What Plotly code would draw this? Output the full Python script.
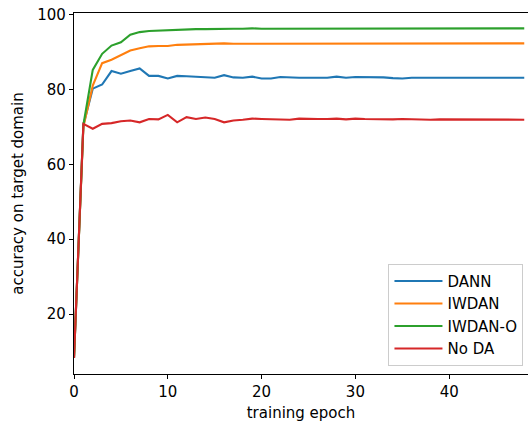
import plotly.graph_objects as go

epochs = list(range(49))
dann = [8.3, 70.5, 80.2, 81.3, 84.9, 84.2, 84.9, 85.6, 83.6, 83.6, 82.9, 83.6, 83.5, 83.4, 83.3, 83.1,
        83.8, 83.2, 83.1, 83.4, 82.9, 82.9, 83.3, 83.1, 83.1, 83.1, 83.0, 83.1, 83.4, 83.1, 83.3, 83.3,
        83.1, 83.2, 83.0, 82.9, 83.1, 83.1, 83.2, 83.3, 83.2, 83.1, 83.2, 83.1, 83.2, 83.2, 83.1, 83.1, 83.1]
iwdan = [8.3, 70.0, 81.0, 87.0, 87.9, 89.2, 90.4, 91.0, 91.5, 91.6, 91.6, 91.9, 92.0, 92.0, 92.1, 92.2,
         92.3, 92.2, 92.2, 92.3, 92.3, 92.3, 92.4, 92.4, 92.3, 92.4, 92.3, 92.4, 92.3, 92.4, 92.3, 92.4,
         92.3, 92.3, 92.3, 92.4, 92.3, 92.3, 92.3, 92.4, 92.3, 92.3, 92.4, 92.3, 92.3, 92.4, 92.3, 92.3, 92.3]
iwdan_o = [8.3, 70.5, 85.2, 89.5, 91.7, 92.6, 94.6, 95.3, 95.6, 95.7, 95.9, 95.9, 96.1, 96.1, 96.1, 96.2,
           96.2, 96.2, 96.2, 96.3, 96.2, 96.2, 96.3, 96.3, 96.3, 96.2, 96.3, 96.3, 96.3, 96.3, 96.3, 96.3,
           96.3, 96.3, 96.3, 96.3, 96.3, 96.3, 96.3, 96.3, 96.3, 96.3, 96.3, 96.3, 96.3, 96.3, 96.3, 96.3, 96.3]
no_da = [8.3, 70.8, 69.5, 70.8, 71.0, 71.5, 71.7, 71.2, 72.1, 72.0, 73.2, 71.2, 72.6, 72.1, 72.5, 72.1,
         71.2, 71.7, 71.9, 72.2, 72.1, 72.0, 72.1, 71.9, 72.2, 72.1, 72.1, 72.1, 72.2, 72.0, 72.2, 72.1,
         72.0, 71.9, 72.0, 72.1, 72.0, 72.0, 71.9, 72.0, 72.0, 71.9, 72.0, 72.0, 72.0, 72.0, 72.0, 72.0, 71.9]

series = [("DANN", dann, "#1f77b4"), ("IWDAN", iwdan, "#ff7f0e"),
          ("IWDAN-O", iwdan_o, "#2ca02c"), ("No DA", no_da, "#d62728")]

font = "DejaVu Sans"
fs = 15
fig = go.Figure()
for name, vals, col in series:
    fig.add_trace(go.Scatter(x=epochs, y=vals, mode="lines", name=name, legendgroup=name,
                             line=dict(color=col, width=2.1)))

axis_common = dict(showgrid=False, zeroline=False, showline=True, linecolor="black", linewidth=1.2,
                   ticks="outside", ticklen=4, tickwidth=1, tickcolor="black",
                   tickfont=dict(family=font, size=fs, color="black"))
fig.update_xaxes(range=[0, 48.4], tickvals=[0, 10, 20, 30, 40], mirror=True,
                 title=dict(text="training epoch", font=dict(family=font, size=fs, color="black"), standoff=7),
                 **axis_common)
fig.update_yaxes(range=[4, 100.4], tickvals=[20, 40, 60, 80, 100],
                 title=dict(text="accuracy on target domain", font=dict(family=font, size=fs, color="black"), standoff=10),
                 **axis_common)
fig.update_layout(width=528, height=430, margin=dict(l=74, r=0, t=13, b=56),
                  plot_bgcolor="white", paper_bgcolor="white",
                  font=dict(family=font, size=fs, color="black"),
                  legend=dict(x=0.99, y=0.023, xanchor="right", yanchor="bottom",
                              bgcolor="rgba(255,255,255,0.8)", bordercolor="#cccccc", borderwidth=1,
                              itemwidth=48,
                              font=dict(family=font, size=fs, color="black"), tracegroupgap=0))
fig.write_html("out.html", config={"displayModeBar": False},
               post_script="document.body.style.margin='0';document.body.style.padding='0';")
